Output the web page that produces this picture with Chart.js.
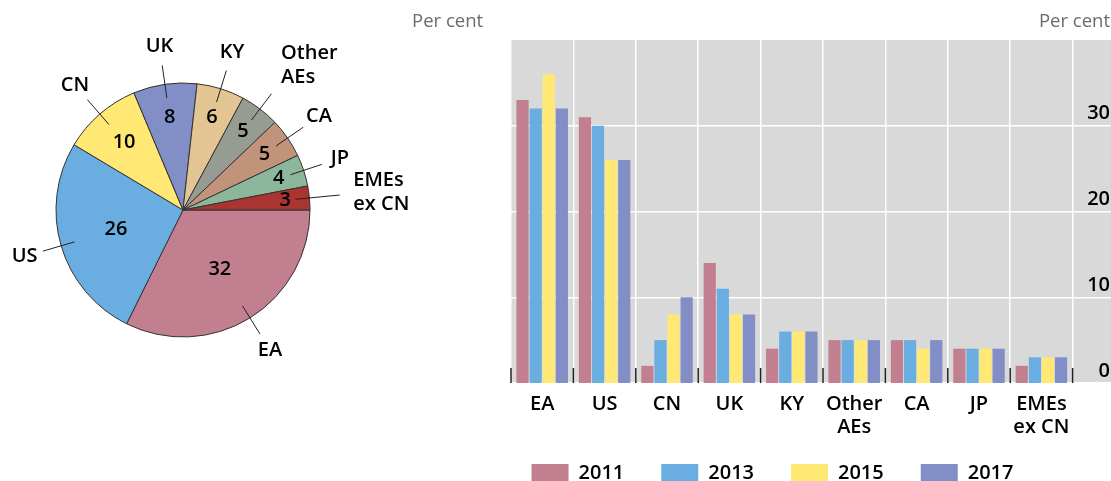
<!DOCTYPE html>
<html>
<head>
<meta charset="utf-8">
<script src="https://cdn.jsdelivr.net/npm/chart.js@4"></script>
<style>
body { margin: 0; width: 1111px; height: 481px; overflow: hidden; background: #fff; position: relative; font-family: 'Open Sans', sans-serif; }
canvas { position: absolute; }
.unit { position: absolute; top: 7px; font-size: 18.5px; color: #6b6b6b; }
</style>
</head>
<body>
<canvas id="pie" width="420" height="481" style="left:0;top:0"></canvas>
<canvas id="bars" width="725" height="493" style="left:410px;top:0"></canvas>
<div class="unit" style="left:412px">Per cent</div>
<div class="unit" style="right:1px">Per cent</div>
<script>
// pie: shares by counterparty
const pieLabels = ['EA', 'US', 'CN', 'UK', 'KY', ['Other', 'AEs'], 'CA', 'JP', ['EMEs', 'ex CN']];
const pieValues = [32, 26, 10, 8, 6, 5, 5, 4, 3];
const pieColors = ['#C27F8F', '#6AADE1', '#FFE873', '#828EC6', '#E3C594', '#979C93', '#C0937A', '#8CB79D', '#A93430'];

// bars: per cent by year
const barCategories = ['EA', 'US', 'CN', 'UK', 'KY', ['Other', 'AEs'], 'CA', 'JP', ['EMEs', 'ex CN']];
const years = ['2011', '2013', '2015', '2017'];
const v2011 = [33, 31, 2, 14, 4, 5, 5, 4, 2];
const v2013 = [32, 30, 5, 11, 6, 5, 5, 4, 3];
const v2015 = [36, 26, 8, 8, 6, 5, 4, 4, 3];
const v2017 = [32, 26, 10, 8, 6, 5, 5, 4, 3];
const barColors = ['#C27F8F', '#6AADE1', '#FFE873', '#828EC6'];
const yTicks = [0, 10, 20, 30];

const FONT = "'Open Sans', sans-serif";
const labelFont = { family: FONT, size: 20, weight: '600' };

// value inside the slice, name outside with a leader line
const pieLabelPlugin = {
    id: 'pieLabels',
    afterDatasetsDraw(chart) {
        const ctx = chart.ctx;
        const meta = chart.getDatasetMeta(0);
        const total = pieValues.reduce((a, b) => a + b, 0);
        ctx.save();
        ctx.font = `600 20px ${FONT}`;
        ctx.fillStyle = '#000';
        ctx.strokeStyle = '#222';
        ctx.lineWidth = 1;
        ctx.textBaseline = 'middle';
        meta.data.forEach((arc, i) => {
            const p = arc.getProps(['x', 'y', 'startAngle', 'endAngle', 'outerRadius'], true);
            const mid = (p.startAngle + p.endAngle) / 2;
            const c = Math.cos(mid), s = Math.sin(mid), r = p.outerRadius;
            const share = pieValues[i] / total;
            const f = Math.max(0.55, 0.85 - 1.4 * share);
            ctx.textAlign = 'center';
            ctx.fillText(pieValues[i], p.x + c * r * f, p.y + s * r * f);

            const outer = share < 0.035 ? 1.24 : 1.15;
            ctx.beginPath();
            ctx.moveTo(p.x + c * r * 0.89, p.y + s * r * 0.89);
            ctx.lineTo(p.x + c * r * outer, p.y + s * r * outer);
            ctx.stroke();

            const lines = [].concat(pieLabels[i]);
            let ax = p.x + c * r * 1.3, ay = p.y + s * r * 1.3;
            if (lines.length > 1) {
                ctx.textAlign = 'left';
                ax += 20 * c - 14;
                ay += 17 * s;
            }
            lines.forEach((t, k) => ctx.fillText(t, ax, ay + (k - (lines.length - 1) / 2) * 24));
        });
        ctx.restore();
    }
};

new Chart(document.getElementById('pie'), {
    type: 'pie',
    data: {
        labels: pieLabels.map(l => [].concat(l).join(' ')),
        datasets: [{
            data: pieValues,
            backgroundColor: pieColors,
            borderColor: '#333',
            borderWidth: 1
        }]
    },
    options: {
        responsive: false,
        animation: false,
        rotation: 90,
        radius: 127,
        layout: { padding: { left: 0, top: 0, right: 54, bottom: 61 } },
        plugins: { legend: { display: false }, tooltip: { enabled: false } }
    },
    plugins: [pieLabelPlugin]
});

// grey plot background
const bgPlugin = {
    id: 'bg',
    beforeDraw(chart) {
        const a = chart.chartArea;
        chart.ctx.save();
        chart.ctx.fillStyle = '#D9D9D9';
        chart.ctx.fillRect(a.left, a.top, a.right - a.left, a.bottom - a.top);
        chart.ctx.restore();
    }
};

// short black marks between categories on the baseline
const tickPlugin = {
    id: 'catTicks',
    afterLayout(chart) {
        // let the two-line category names run into the legend band instead of being clipped
        chart.scales.x.bottom += 30;
    },
    afterDatasetsDraw(chart) {
        const xs = chart.scales.x;
        const n = xs.getLabels().length;
        const bottom = chart.chartArea.bottom;
        const ctx = chart.ctx;
        ctx.save();
        ctx.strokeStyle = '#222';
        ctx.lineWidth = 1.5;
        for (let i = 0; i <= n; i++) {
            const x = chart.chartArea.left + i * (chart.chartArea.right - chart.chartArea.left) / n;
            ctx.beginPath();
            ctx.moveTo(x, bottom - 15);
            ctx.lineTo(x, bottom);
            ctx.stroke();
        }
        ctx.restore();
    }
};

new Chart(document.getElementById('bars'), {
    type: 'bar',
    data: {
        labels: [...barCategories, ''],
        datasets: [v2011, v2013, v2015, v2017].map((d, i) => ({
            label: years[i],
            data: d,
            backgroundColor: barColors[i],
            barPercentage: 0.93,
            categoryPercentage: 0.84
        }))
    },
    options: {
        responsive: false,
        animation: false,
        layout: { padding: { top: 40, left: 0, right: 0, bottom: 0 } },
        plugins: {
            legend: {
                position: 'bottom',
                labels: { boxWidth: 37, boxHeight: 18, padding: 37, color: '#000', font: labelFont }
            },
            tooltip: { enabled: false }
        },
        scales: {
            x: {
                grid: { offset: true, color: '#fff', lineWidth: 1.5, drawTicks: false },
                border: { display: false },
                ticks: { color: '#000', padding: 10, font: { ...labelFont, lineHeight: 1.15 }, maxRotation: 0, autoSkip: false },
                afterFit(s) { s.height = 43; }
            },
            yl: {
                position: 'left',
                grid: { display: false },
                border: { display: false },
                ticks: { display: false },
                afterFit(s) { s.width = 101; }
            },
            y: {
                position: 'right',
                min: 0,
                max: 40,
                grid: { color: '#fff', lineWidth: 1.5, drawTicks: false },
                border: { display: false },
                afterBuildTicks(s) { s.ticks = yTicks.map(v => ({ value: v })); },
                ticks: { mirror: true, padding: -25, labelOffset: -12, color: '#000', font: labelFont },
                afterFit(s) { s.width = 0; }
            }
        }
    },
    plugins: [bgPlugin, tickPlugin]
});
</script>
</body>
</html>
